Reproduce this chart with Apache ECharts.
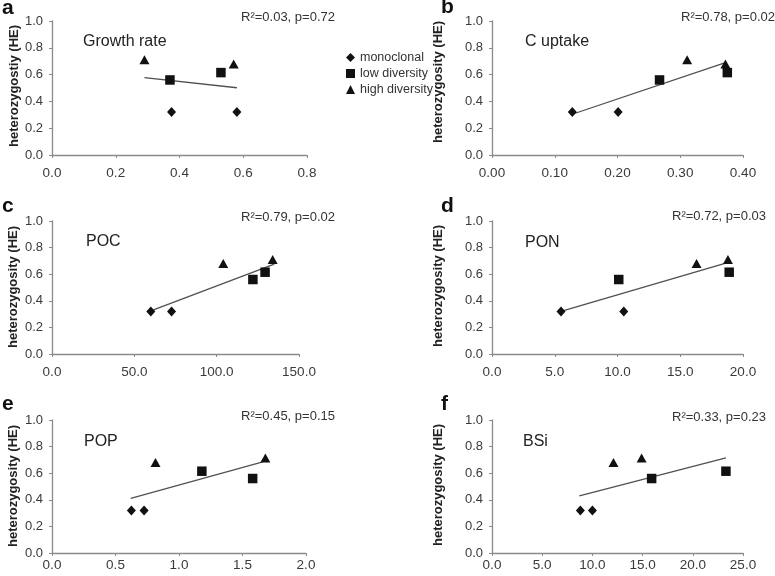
<!DOCTYPE html>
<html>
<head>
<meta charset="utf-8">
<script src="https://cdn.jsdelivr.net/npm/echarts@6/dist/echarts.min.js"></script>
<style>
html,body{margin:0;padding:0;background:#fff;}
#chart{width:775px;height:576px;}
</style>
</head>
<body>
<div id="chart"></div>
<script>
// ---- data ----
const panelLetters = ['a', 'b', 'c', 'd', 'e', 'f'];
const panelNames = ['Growth rate', 'C uptake', 'POC', 'PON', 'POP', 'BSi'];
const yTitles = ['heterozygostiy (HE)', 'heterozygosity (HE)', 'heterozygosity (HE)',
                 'heterozygosity (HE)', 'heterozygosity (HE)', 'heterozygosity (HE)'];
const statTexts = ['R\u00b2=0.03, p=0.72', 'R\u00b2=0.78, p=0.02', 'R\u00b2=0.79, p=0.02',
                   'R\u00b2=0.72, p=0.03', 'R\u00b2=0.45, p=0.15', 'R\u00b2=0.33, p=0.23'];
const legendNames = ['monoclonal', 'low diversity', 'high diversity'];

// x-axis ticks per panel: max, step, decimals
const xMax = [0.8, 0.40, 150, 20, 2.0, 25];
const xStep = [0.2, 0.10, 50, 5, 0.5, 5];
const xDecimals = [1, 2, 1, 1, 1, 1];
const yTicks = [0, 0.2, 0.4, 0.6, 0.8, 1.0];

const monoclonal = [
  [[0.375, 0.32], [0.58, 0.32]],
  [[0.128, 0.32], [0.201, 0.32]],
  [[60, 0.32], [72.6, 0.32]],
  [[5.5, 0.32], [10.5, 0.32]],
  [[0.625, 0.32], [0.725, 0.32]],
  [[8.8, 0.32], [10.0, 0.32]]
];
const lowDiversity = [
  [[0.37, 0.56], [0.53, 0.615]],
  [[0.267, 0.56], [0.375, 0.615]],
  [[122, 0.56], [129.4, 0.615]],
  [[10.1, 0.56], [18.9, 0.615]],
  [[1.58, 0.56], [1.18, 0.615]],
  [[15.9, 0.56], [23.3, 0.615]]
];
const highDiversity = [
  [[0.29, 0.71], [0.57, 0.68]],
  [[0.311, 0.71], [0.372, 0.68]],
  [[134, 0.71], [104, 0.68]],
  [[18.8, 0.71], [16.3, 0.68]],
  [[1.68, 0.715], [0.815, 0.68]],
  [[14.9, 0.715], [12.1, 0.68]]
];
const trendLines = [
  [[0.29, 0.577], [0.58, 0.502]],
  [[0.129, 0.306], [0.372, 0.689]],
  [[60, 0.325], [135, 0.675]],
  [[5.5, 0.32], [18.7, 0.685]],
  [[0.62, 0.41], [1.66, 0.685]],
  [[8.7, 0.43], [23.3, 0.715]]
];

// ---- layout ----
const grids = [
  {left: 52, top: 21, width: 255, height: 134},
  {left: 492, top: 21, width: 251, height: 134},
  {left: 52, top: 221, width: 247, height: 133},
  {left: 492, top: 221, width: 251, height: 133},
  {left: 52, top: 420, width: 254, height: 133},
  {left: 492, top: 420, width: 251, height: 133}
];
const xLabelMargin = [11, 11, 11, 11, 5, 5];
const letterPos = [[2, 9], [441, 8], [2, 207], [441, 207], [2, 405], [441, 405]];
const namePos = [[83, 42], [525, 42], [86, 242], [525, 243], [84, 442], [523, 442]];
const statPos = [[241, 17], [681, 17], [241, 217], [672, 216], [241, 416], [672, 417]];
const yTitlePos = [[14, 86], [438, 82], [13, 287], [438, 286], [13, 486], [438, 485]];

const FONT = 'Liberation Sans, Arial, sans-serif';
const axisColor = '#8a8a8a';
const labelColor = '#3a3a3a';
const markColor = '#111111';

const xAxes = [], yAxes = [], series = [], graphics = [];
for (let i = 0; i < 6; i++) {
  xAxes.push({
    gridIndex: i, type: 'value', min: 0, max: xMax[i], interval: xStep[i],
    axisLine: {show: true, onZero: false, lineStyle: {color: axisColor, width: 1.3}},
    axisTick: {show: true, length: 3, lineStyle: {color: axisColor}},
    splitLine: {show: false},
    axisLabel: {color: labelColor, fontFamily: FONT, fontSize: 13.5, margin: xLabelMargin[i],
      formatter: (v => v.toFixed(xDecimals[i]))}
  });
  yAxes.push({
    gridIndex: i, type: 'value', min: yTicks[0], max: yTicks[yTicks.length - 1], interval: 0.2,
    axisLine: {show: true, onZero: false, lineStyle: {color: axisColor, width: 1.3}},
    axisTick: {show: true, length: 3, lineStyle: {color: axisColor}},
    splitLine: {show: false},
    axisLabel: {color: labelColor, fontFamily: FONT, fontSize: 13, margin: 9,
      formatter: v => v.toFixed(1)}
  });
  series.push({
    type: 'line', name: 'trend' + i, xAxisIndex: i, yAxisIndex: i, data: trendLines[i],
    showSymbol: false, symbol: 'none', silent: true, z: 1,
    lineStyle: {color: '#505050', width: 1.3}
  });
  series.push({
    type: 'scatter', name: legendNames[0], xAxisIndex: i, yAxisIndex: i, data: monoclonal[i],
    symbol: 'diamond', symbolSize: [9, 10], itemStyle: {color: markColor, opacity: 1}, z: 3
  });
  series.push({
    type: 'scatter', name: legendNames[1], xAxisIndex: i, yAxisIndex: i, data: lowDiversity[i],
    symbol: 'rect', symbolSize: 9.5, itemStyle: {color: markColor, opacity: 1}, z: 3
  });
  series.push({
    type: 'scatter', name: legendNames[2], xAxisIndex: i, yAxisIndex: i, data: highDiversity[i],
    symbol: 'triangle', symbolSize: [10, 9], itemStyle: {color: markColor, opacity: 1}, z: 3
  });

  graphics.push({
    type: 'text', left: letterPos[i][0], top: letterPos[i][1] - 11,
    style: {text: panelLetters[i], font: 'bold 21px ' + FONT, fill: '#111'}
  });
  graphics.push({
    type: 'text', x: namePos[i][0], y: namePos[i][1],
    style: {text: panelNames[i], font: '16px ' + FONT, fill: '#222', align: 'left', verticalAlign: 'middle'}
  });
  graphics.push({
    type: 'text', x: statPos[i][0], y: statPos[i][1],
    style: {text: statTexts[i], font: '13px ' + FONT, fill: '#333', align: 'left', verticalAlign: 'middle'}
  });
  graphics.push({
    type: 'text', x: yTitlePos[i][0], y: yTitlePos[i][1], rotation: Math.PI / 2,
    style: {text: yTitles[i], font: 'bold 13px ' + FONT, fill: '#222', align: 'center', verticalAlign: 'middle'}
  });
}

const chart = echarts.init(document.getElementById('chart'), null, {renderer: 'canvas'});
chart.setOption({
  animation: false,
  backgroundColor: '#ffffff',
  textStyle: {fontFamily: FONT},
  grid: grids,
  xAxis: xAxes,
  yAxis: yAxes,
  legend: {
    orient: 'vertical', left: 341, top: 46, itemWidth: 9, itemHeight: 9, itemGap: 3,
    selectedMode: false,
    textStyle: {color: '#333', fontSize: 12.5, fontFamily: FONT},
    data: [
      {name: legendNames[0], icon: 'diamond'},
      {name: legendNames[1], icon: 'rect'},
      {name: legendNames[2], icon: 'triangle'}
    ]
  },
  graphic: graphics,
  series: series
});
</script>
</body>
</html>
